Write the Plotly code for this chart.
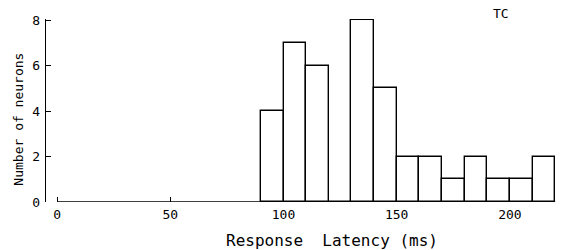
import plotly.graph_objects as go

# Data
bin_left = [90, 100, 110, 120, 130, 140, 150, 160, 170, 180, 190, 200, 210]
counts = [4, 7, 6, 0, 8, 5, 2, 2, 1, 2, 1, 1, 2]
bin_width = 10
latency_min = 0
x_ticks = [0, 50, 100, 150, 200]
y_ticks = [0, 2, 4, 6, 8]

W, H = 563, 250
ml, mr, mt, mb = 46, 6, 19, 48

fig = go.Figure()
fig.add_trace(go.Bar(
    x=bin_left, y=counts, width=bin_width, offset=0, cliponaxis=False,
    marker=dict(color="white", line=dict(color="black", width=1.4)),
    showlegend=False, hoverinfo="skip",
))
# baseline of histogram
fig.add_trace(go.Scatter(
    x=[latency_min, bin_left[-1] + bin_width], y=[0, 0], mode="lines",
    cliponaxis=False,
    line=dict(color="black", width=1.4), showlegend=False, hoverinfo="skip",
))

font_main = "DejaVu Sans Mono"
fig.update_layout(
    template="none",
    width=W, height=H,
    margin=dict(l=ml, r=mr, t=mt, b=mb, pad=0, autoexpand=False),
    plot_bgcolor="white", paper_bgcolor="white",
    bargap=0,
    font=dict(family=font_main, size=12, color="black"),
    xaxis=dict(
        range=[-4.9, 220.8], tickvals=x_ticks, ticks="inside", ticklen=5,
        tickwidth=1, tickcolor="black", showline=False, showgrid=False,
        zeroline=False, automargin=False, ticklabelstandoff=3,
        tickfont=dict(size=13, family=font_main),
    ),
    yaxis=dict(
        range=[0, 8.05], tickvals=y_ticks, ticks="inside", ticklen=5,
        tickwidth=1.2, tickcolor="black", showline=True, linecolor="black",
        linewidth=1.4, showgrid=False, zeroline=False, automargin=False,
        ticklabelstandoff=2,
        tickfont=dict(size=13, family=font_main),
    ),
    annotations=[
        dict(text="TC", x=0.87, y=1.0, xref="paper", yref="paper",
             xanchor="left", yanchor="middle", yshift=6, showarrow=False,
             font=dict(size=13, family=font_main)),
        dict(text="Response  Latency (ms)", x=0.56, y=0, xref="paper",
             yref="paper", xanchor="center", yanchor="middle", yshift=-38,
             showarrow=False, font=dict(size=16, family=font_main)),
        dict(text="Number of neurons", x=0, y=0.45, xref="paper",
             yref="paper", xanchor="center", yanchor="middle", xshift=-27,
             textangle=-90, showarrow=False,
             font=dict(size=13, family=font_main)),
    ],
)

fig.write_html(
    "out.html",
    config={"displayModeBar": False},
    post_script="document.body.style.margin='0';document.body.style.overflow='hidden';",
)
